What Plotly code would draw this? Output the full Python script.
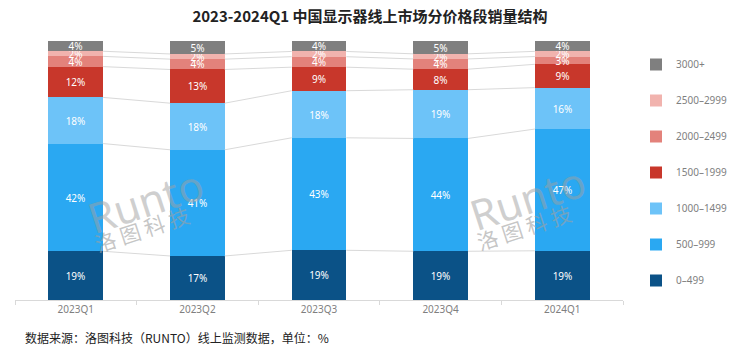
import plotly.graph_objects as go
import numpy as np

quarters = ["2023Q1", "2023Q2", "2023Q3", "2023Q4", "2024Q1"]
legend_names = ["0–499", "500–999", "1000–1499", "1500–1999", "2000–2499", "2500–2999", "3000+"]
v_0_499 = [19, 17, 19, 19, 19]
v_500_999 = [42, 41, 43, 44, 47]
v_1000_1499 = [18, 18, 18, 19, 16]
v_1500_1999 = [12, 13, 9, 8, 9]
v_2000_2499 = [4, 4, 4, 4, 3]
v_2500_2999 = [2, 2, 2, 2, 2]
v_3000 = [4, 5, 4, 5, 4]

series = [v_0_499, v_500_999, v_1000_1499, v_1500_1999, v_2000_2499, v_2500_2999, v_3000]
colors = ["#0B5287", "#2AA8F2", "#6DC3F8", "#C8372B", "#E3827B", "#F1B3AE", "#7F7F7F"]

x = np.arange(len(quarters))
bar_w = 0.45

W, H = 740, 350
ML, MR, MT, MB = 15, 117, 41, 50
PW, PH = W - ML - MR, H - MT - MB


def px_x(p):
    return (p - ML) / PW


def px_y(p):
    return (H - MB - p) / PH


fig = go.Figure()

# connector lines between bars (normalized cumulative boundaries)
arr = np.array(series, dtype=float)
norm = arr / arr.sum(axis=0) * 100
cum = np.cumsum(norm, axis=0)
for k in range(len(series) - 1):
    for i in range(len(quarters) - 1):
        fig.add_trace(go.Scatter(
            x=[x[i] + bar_w / 2, x[i + 1] - bar_w / 2],
            y=[cum[k, i], cum[k, i + 1]],
            mode="lines", line=dict(color="#D9D9D9", width=1),
            showlegend=False, hoverinfo="skip", legendgroup="lines"))

n = len(series)
for k, (vals, name, c) in enumerate(zip(series, legend_names, colors)):
    fig.add_trace(go.Bar(
        x=x, y=vals, name=name, marker=dict(color=c, line=dict(width=0)),
        width=bar_w, legendgroup=name, legendrank=n - k,
        text=[f"{v}%" for v in vals], textposition="inside",
        insidetextanchor="middle", constraintext="none",
        textfont=dict(color="white", size=10, family="Noto Sans"),
    ))

annotations = []
# watermarks
for (rx, ry, cx, cy) in [(145, 200, 142, 229), (527, 197, 524, 227)]:
    annotations.append(dict(x=px_x(rx), y=px_y(ry), xref="paper", yref="paper", text="Runto",
                            xanchor="center", yanchor="middle",
                            showarrow=False, textangle=-18,
                            font=dict(size=42, color="rgba(160,160,160,0.5)", family="Noto Sans")))
    annotations.append(dict(x=px_x(cx), y=px_y(cy), xref="paper", yref="paper",
                            xanchor="center", yanchor="middle",
                            text="洛 图 科 技", showarrow=False, textangle=-18,
                            font=dict(size=21, color="rgba(160,160,160,0.6)", family="Noto Sans CJK SC")))

annotations.append(dict(text="数据来源：洛图科技（RUNTO）线上监测数据，单位：%",
                        x=px_x(23), xref="paper", y=px_y(337), yref="paper",
                        xanchor="left", yanchor="middle", showarrow=False,
                        font=dict(size=12, color="#222222", family="Noto Sans CJK SC")))

fig.update_layout(
    width=W, height=H,
    barmode="stack", barnorm="percent", bargap=0,
    plot_bgcolor="white", paper_bgcolor="white",
    margin=dict(l=ML, r=MR, t=MT, b=MB),
    title=dict(text="<b>2023-2024Q1 中国显示器线上市场分价格段销量结构</b>",
               x=0.5, xref="container", y=1 - 17 / H, yref="container",
               yanchor="middle", xanchor="center",
               font=dict(size=15, color="#222222", family="Noto Sans CJK SC")),
    xaxis=dict(tickmode="array", tickvals=list(x), ticktext=quarters,
               range=[-0.5, len(quarters) - 0.5], showgrid=False, zeroline=False,
               showline=True, linecolor="#D9D9D9", linewidth=1,
               tickfont=dict(size=10, color="#7F7F7F", family="Noto Sans"),
               minor=dict(ticks="outside", tick0=0.5, dtick=1, ticklen=4, tickcolor="#D9D9D9")),
    yaxis=dict(range=[0, 100], visible=False),
    legend=dict(x=636 / W, xref="container", y=1 - 50 / H, yref="container",
                xanchor="left", yanchor="top", traceorder="grouped",
                tracegroupgap=17, itemwidth=30, maxheight=300,
                font=dict(size=10, color="#7F7F7F", family="Noto Sans"),
                bgcolor="rgba(0,0,0,0)"),
    showlegend=True,
    annotations=annotations,
)
fig.write_html("out.html")
